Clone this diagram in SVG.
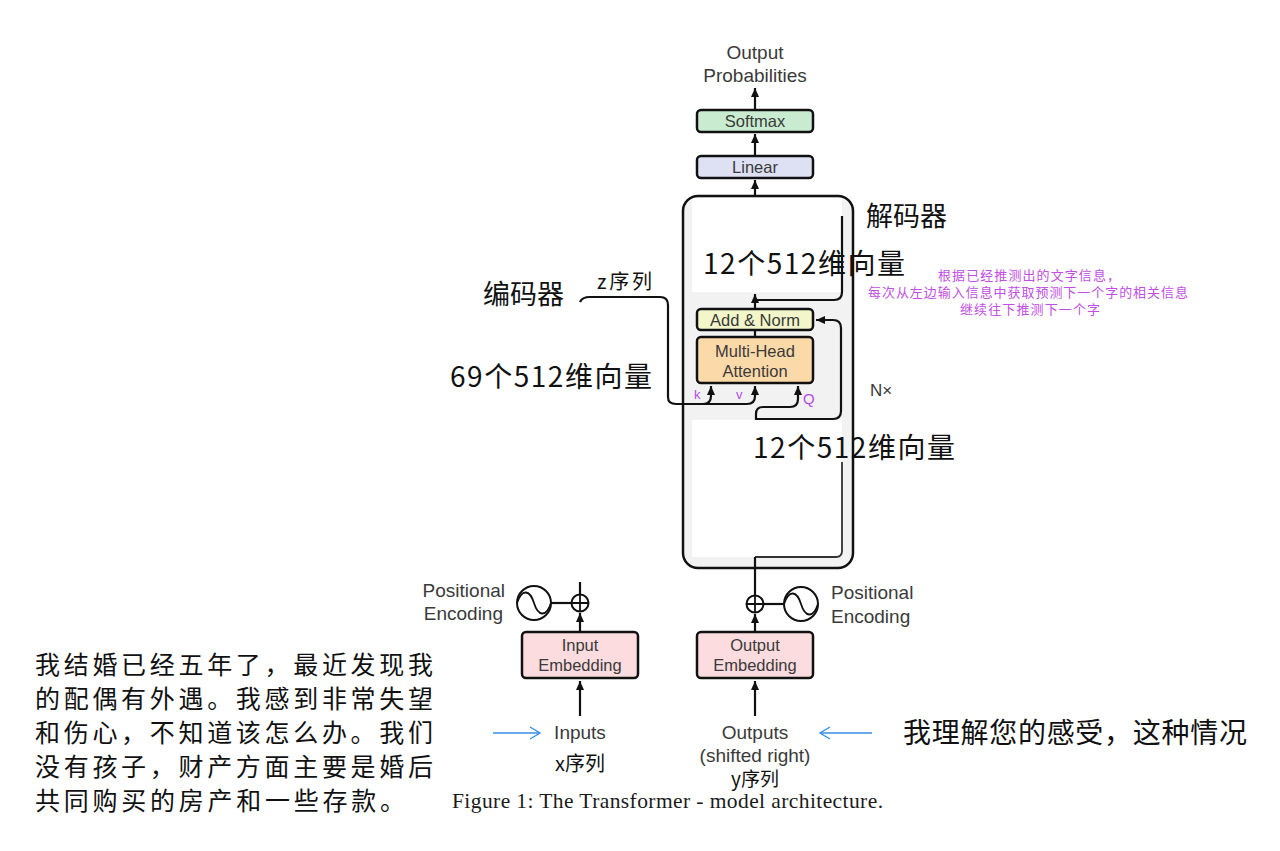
<svg xmlns="http://www.w3.org/2000/svg" width="1280" height="851" viewBox="0 0 1280 851">
<defs>
<marker id="ah" markerUnits="userSpaceOnUse" markerWidth="10" markerHeight="10" refX="9" refY="5" orient="auto">
<path d="M0,1 L9,5 L0,9 Z" fill="#111"/>
</marker>
<marker id="bh" markerUnits="userSpaceOnUse" markerWidth="12" markerHeight="14" refX="11" refY="7" orient="auto">
<path d="M1,1 L11,7 L1,13" fill="none" stroke="#3a8ee0" stroke-width="1.3"/>
</marker>
</defs>
<style>
.box{stroke:#111;stroke-width:2.5}
.en{font-family:"Liberation Sans",Arial,sans-serif;fill:#3a3a3a;text-anchor:middle}
.lab{font-size:19px}
.inb{font-size:16.5px}
.cn{font-family:"Noto Sans CJK SC",sans-serif;fill:#111}
.pp{font-family:"Noto Sans CJK SC",sans-serif;fill:#c24ee6;font-size:13px}
.kv{font-family:"Liberation Sans",Arial,sans-serif;fill:#b44ce8}
.ln{fill:none;stroke:#111;stroke-width:2.2}
.bl{fill:none;stroke:#3a8ee0;stroke-width:1.3}
</style>
<rect width="1280" height="851" fill="#fff"/>

<g id="decoder">
<rect x="683" y="196" width="170" height="372" rx="15" fill="#f2f2f2"/>
<rect x="692" y="198" width="150" height="94" fill="#fff"/>
<rect x="692" y="420" width="150" height="137" fill="#fff"/>
<rect x="683" y="196" width="170" height="372" rx="15" fill="none" class="box"/>
<text x="870" y="396" class="en" style="font-size:17px;text-anchor:start">N×</text>
</g>

<g id="output-probabilities">
<text x="755" y="59" class="en lab">Output</text>
<text x="755" y="82" class="en lab">Probabilities</text>
</g>
<g id="softmax">
<rect x="697" y="110" width="116" height="22" rx="4" fill="#c9ecd1" class="box"/>
<text x="755" y="127" class="en inb">Softmax</text>
</g>
<g id="linear">
<rect x="697" y="156" width="116" height="22" rx="4" fill="#dde1f3" class="box"/>
<text x="755" y="173" class="en inb">Linear</text>
</g>
<g id="add-norm">
<rect x="697" y="309" width="116" height="21" rx="4" fill="#f2f6c8" class="box"/>
<text x="755" y="326" class="en inb">Add &amp; Norm</text>
</g>
<g id="multi-head-attention">
<rect x="697" y="337" width="116" height="46" rx="4" fill="#fcd9a9" class="box"/>
<text x="755" y="357" class="en inb">Multi-Head</text>
<text x="755" y="377" class="en inb">Attention</text>
</g>
<g id="input-embedding">
<rect x="522" y="632" width="116" height="46" rx="4" fill="#fcdcde" class="box"/>
<text x="580" y="651" class="en inb">Input</text>
<text x="580" y="671" class="en inb">Embedding</text>
</g>
<g id="output-embedding">
<rect x="697" y="632" width="116" height="46" rx="4" fill="#fcdcde" class="box"/>
<text x="755" y="651" class="en inb">Output</text>
<text x="755" y="671" class="en inb">Embedding</text>
</g>
<g id="pos-enc-left">
<circle cx="534" cy="603" r="17" fill="none" stroke="#111" stroke-width="2"/>
<path d="M517,603 C522,588 530,590 534,603 C538,616 546,618 551,603" fill="none" stroke="#111" stroke-width="1.8"/>
<circle cx="580" cy="603" r="8.5" fill="#fff" stroke="#111" stroke-width="2"/>
<path d="M571.5,603 H588.5 M580,594.5 V611.5" stroke="#111" stroke-width="1.8"/>
<text x="505" y="597" class="en lab" style="text-anchor:end">Positional</text>
<text x="503" y="620" class="en lab" style="text-anchor:end">Encoding</text>
</g>
<g id="pos-enc-right">
<circle cx="801" cy="604" r="17" fill="none" stroke="#111" stroke-width="2"/>
<path d="M784,604 C789,589 797,591 801,604 C805,617 813,619 818,604" fill="none" stroke="#111" stroke-width="1.8"/>
<circle cx="755" cy="604" r="8.5" fill="#fff" stroke="#111" stroke-width="2"/>
<path d="M746.5,604 H763.5 M755,595.5 V612.5" stroke="#111" stroke-width="1.8"/>
<text x="831" y="599" class="en lab" style="text-anchor:start">Positional</text>
<text x="831" y="623" class="en lab" style="text-anchor:start">Encoding</text>
</g>
<g id="inputs">
<text x="580" y="739" class="en lab">Inputs</text>
<text x="580" y="771" class="cn" style="font-size:20px;text-anchor:middle">x序列</text>
</g>
<g id="outputs">
<text x="755" y="739" class="en lab">Outputs</text>
<text x="755" y="762" class="en lab">(shifted right)</text>
<text x="755" y="786" class="cn" style="font-size:19px;text-anchor:middle">y序列</text>
</g>

<g id="connectors">
<line x1="755" y1="110" x2="755" y2="88" class="ln" marker-end="url(#ah)"/>
<line x1="755" y1="156" x2="755" y2="134" class="ln" marker-end="url(#ah)"/>
<line x1="755" y1="196" x2="755" y2="180" class="ln" marker-end="url(#ah)"/>
<line x1="755" y1="309" x2="755" y2="294" class="ln" marker-end="url(#ah)"/>
<line x1="755" y1="330" x2="755" y2="337" class="ln"/>
<path d="M755,300 H834 Q842,300 842,292 V216" class="ln"/>
<path d="M580,302 Q582,297 590,297 H660 Q668,297 668,305 V397 Q668,404 676,404 H703 Q711,404 711,396 V386" class="ln" marker-end="url(#ah)"/>
<path d="M703,404 H747 Q755,404 755,396 V386" class="ln" marker-end="url(#ah)"/>
<path d="M756,420 V414 Q756,407 763,407 H790 Q798,407 798,399 V386" class="ln" marker-end="url(#ah)"/>
<path d="M756,419 H833 Q841,419 841,411 V328 Q841,320 833,320 H816" class="ln" marker-end="url(#ah)"/>
<path d="M755,557 H836 Q842,557 842,551 V462" fill="none" stroke="#333" stroke-width="1.8"/>
<line x1="755" y1="557" x2="755" y2="595.5" class="ln"/>
<line x1="755" y1="632" x2="755" y2="614" class="ln" marker-end="url(#ah)"/>
<line x1="755" y1="716" x2="755" y2="681" class="ln" marker-end="url(#ah)"/>
<line x1="763.5" y1="604" x2="784" y2="604" class="ln"/>
<line x1="580" y1="594.5" x2="580" y2="582" class="ln"/>
<line x1="580" y1="632" x2="580" y2="613" class="ln" marker-end="url(#ah)"/>
<line x1="580" y1="716" x2="580" y2="681" class="ln" marker-end="url(#ah)"/>
<line x1="551" y1="603" x2="571.5" y2="603" class="ln"/>
<line x1="493" y1="733" x2="540" y2="733" class="bl" marker-end="url(#bh)"/>
<line x1="872" y1="733" x2="820" y2="733" class="bl" marker-end="url(#bh)"/>
</g>

<g id="kvq-labels">
<text x="694" y="399" class="kv" style="font-size:13px">k</text>
<text x="736" y="399" class="kv" style="font-size:13px">v</text>
<text x="803" y="404" class="kv" style="font-size:15px">Q</text>
</g>

<g id="annotations">
<text x="866" y="226" class="cn" style="font-size:27px">解码器</text>
<text x="703" y="274" class="cn" style="font-size:28px" textLength="202">12个512维向量</text>
<text x="483" y="304" class="cn" style="font-size:27px">编码器</text>
<text x="597" y="289" class="cn" style="font-size:20px" textLength="55">z序列</text>
<text x="450" y="387" class="cn" style="font-size:28px" textLength="202">69个512维向量</text>
<text x="753" y="458" class="cn" style="font-size:28px" textLength="202">12个512维向量</text>
<text x="938" y="280" class="pp" textLength="182">根据已经推测出的文字信息，</text>
<text x="868" y="297" class="pp" textLength="320">每次从左边输入信息中获取预测下一个字的相关信息</text>
<text x="960" y="314" class="pp" textLength="140">继续往下推测下一个字</text>
</g>

<g id="question" class="cn" style="font-size:25px">
<text x="35" y="674" textLength="398">我结婚已经五年了，最近发现我</text>
<text x="35" y="708" textLength="398">的配偶有外遇。我感到非常失望</text>
<text x="35" y="742" textLength="398">和伤心，不知道该怎么办。我们</text>
<text x="35" y="776" textLength="398">没有孩子，财产方面主要是婚后</text>
<text x="35" y="810" textLength="370">共同购买的房产和一些存款。</text>
</g>
<g id="answer">
<text x="903" y="743" class="cn" style="font-size:28px" textLength="344">我理解您的感受，这种情况</text>
</g>
<g id="caption">
<text x="452" y="808" font-family="'Liberation Serif','Times New Roman',serif" font-size="21.5" fill="#1a1a1a" textLength="431">Figure 1: The Transformer - model architecture.</text>
</g>
</svg>
